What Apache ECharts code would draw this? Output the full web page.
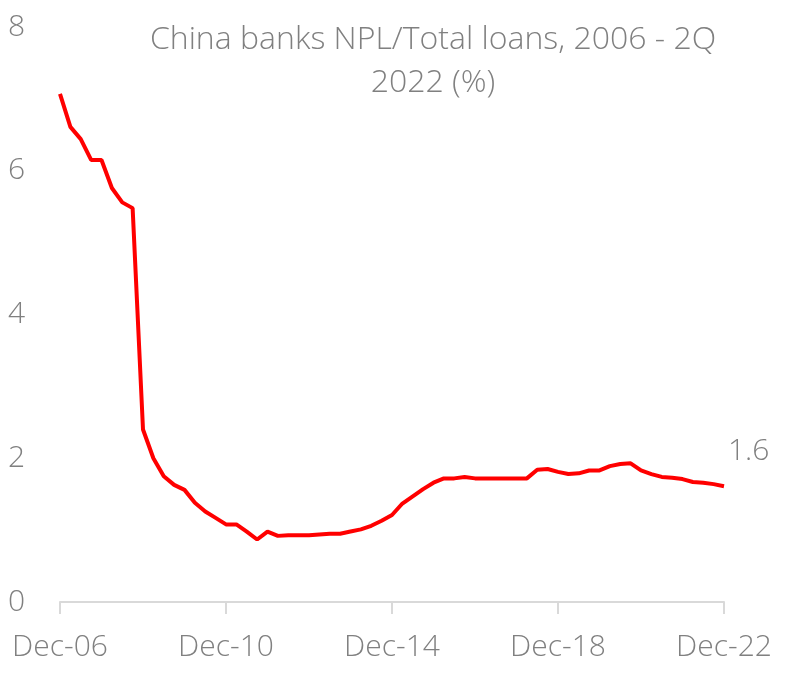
<!DOCTYPE html>
<html>
<head>
<meta charset="utf-8">
<script src="https://cdn.jsdelivr.net/npm/echarts@6/dist/echarts.min.js"></script>
<style>html,body{margin:0;padding:0;background:#fff}#c{width:788px;height:677px}</style>
</head>
<body>
<div id="c"></div>
<script>
var categories = [
  "Dec-06","Mar-07","Jun-07","Sep-07","Dec-07","Mar-08","Jun-08","Sep-08",
  "Dec-08","Mar-09","Jun-09","Sep-09","Dec-09","Mar-10","Jun-10","Sep-10",
  "Dec-10","Mar-11","Jun-11","Sep-11","Dec-11","Mar-12","Jun-12","Sep-12",
  "Dec-12","Mar-13","Jun-13","Sep-13","Dec-13","Mar-14","Jun-14","Sep-14",
  "Dec-14","Mar-15","Jun-15","Sep-15","Dec-15","Mar-16","Jun-16","Sep-16",
  "Dec-16","Mar-17","Jun-17","Sep-17","Dec-17","Mar-18","Jun-18","Sep-18",
  "Dec-18","Mar-19","Jun-19","Sep-19","Dec-19","Mar-20","Jun-20","Sep-20",
  "Dec-20","Mar-21","Jun-21","Sep-21","Dec-21","Mar-22","Jun-22","Sep-22",
  "Dec-22"
];
var nplRatio = [
  7.07, 6.61, 6.44, 6.15, 6.15, 5.76, 5.56, 5.48,
  2.40, 2.00, 1.75, 1.63, 1.56, 1.38, 1.26, 1.17,
  1.08, 1.08, 0.98, 0.87, 0.98, 0.92, 0.93, 0.93,
  0.93, 0.94, 0.95, 0.95, 0.98, 1.01, 1.06, 1.13,
  1.21, 1.37, 1.47, 1.57, 1.66, 1.72, 1.72, 1.74,
  1.72, 1.72, 1.72, 1.72, 1.72, 1.72, 1.84, 1.85,
  1.81, 1.78, 1.79, 1.83, 1.83, 1.89, 1.92, 1.93,
  1.83, 1.78, 1.74, 1.73, 1.71, 1.67, 1.66, 1.64,
  1.61
];
var yTicks = [0, 2, 4, 6, 8];
var titleText = "China banks NPL/Total loans, 2006 - 2Q\n2022 (%)";

var grey = '#808080';
var font = '"Open Sans", "Noto Sans", sans-serif';
var chart = echarts.init(document.getElementById('c'));
chart.setOption({
  animation: false,
  title: {
    text: titleText,
    left: 428,
    top: 13,
    textAlign: 'center',
    textStyle: { color: grey, fontFamily: font, fontWeight: 300, fontSize: 32, lineHeight: 43 }
  },
  grid: { left: 60, right: 64, top: 27, bottom: 75 },
  xAxis: {
    type: 'category',
    data: categories,
    boundaryGap: false,
    axisLine: { lineStyle: { color: '#d9d9d9', width: 2 } },
    axisTick: { interval: 15, length: 12, lineStyle: { color: '#d9d9d9', width: 2 } },
    axisLabel: { interval: 15, color: grey, fontFamily: font, fontWeight: 300, fontSize: 30, margin: 30 }
  },
  yAxis: {
    type: 'value',
    min: yTicks[0],
    max: yTicks[yTicks.length - 1],
    interval: 2,
    splitLine: { show: false },
    axisLine: { show: false },
    axisTick: { show: false },
    axisLabel: { color: grey, fontFamily: font, fontWeight: 300, fontSize: 30, align: 'left', margin: 52 }
  },
  series: [{
    type: 'line',
    data: nplRatio,
    showSymbol: false,
    symbol: 'none',
    lineStyle: { color: '#ff0000', width: 4 },
    itemStyle: { color: '#ff0000' },
    endLabel: {
      show: true,
      offset: [-4, -35],
      formatter: function (p) { return Number(p.value).toFixed(1); },
      color: grey, fontFamily: font, fontWeight: 300, fontSize: 30
    }
  }]
});
</script>
</body>
</html>
